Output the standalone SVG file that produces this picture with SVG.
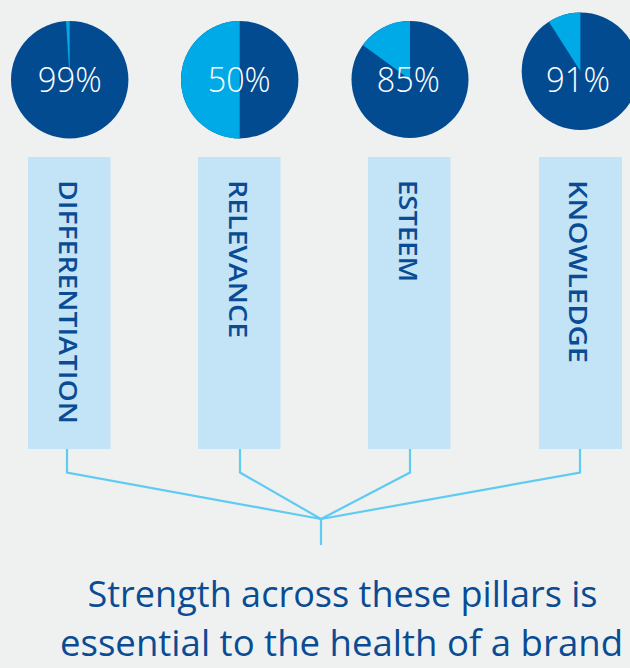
<svg xmlns="http://www.w3.org/2000/svg" width="630" height="668" viewBox="0 0 630 668">
<style>
.dark{fill:#034B90}
.light{fill:#00AAE6}
.pct{font-family:"Open Sans","Noto Sans","Liberation Sans",sans-serif;font-weight:300;font-size:34px;fill:#FFFFFF;text-anchor:middle}
.bar{fill:#C3E3F7}
.lbl{font-family:"Open Sans","Liberation Sans",sans-serif;font-weight:600;font-size:26px;fill:#0A4C93}
.conn{fill:none;stroke:#5FCAF2;stroke-width:2.2;stroke-linejoin:miter}
.cap{font-family:"Open Sans","Noto Sans",sans-serif;font-weight:500;font-size:36px;fill:#0A4C93;text-anchor:middle}
</style>
<rect width="630" height="668" fill="#EFF1F1"/>
<g id="pie1">
<circle class="dark" cx="69.7" cy="79.7" r="58.7"/>
<path class="light" d="M69.7,79.7 L66,21.1 A58.7,58.7 0 0 1 69.7,21 Z"/>
<text class="pct" x="69.7" y="92" textLength="64" lengthAdjust="spacingAndGlyphs">99%</text>
</g>
<g id="pie2">
<circle class="dark" cx="239.7" cy="79.7" r="58.7"/>
<path class="light" d="M239.7,79.7 L239.7,21 A58.7,58.7 0 0 0 239.7,138.4 Z"/>
<text class="pct" x="239.2" y="92" textLength="63" lengthAdjust="spacingAndGlyphs">50%</text>
</g>
<g id="pie3">
<circle class="dark" cx="410" cy="79.5" r="58.5"/>
<path class="light" d="M410,79.5 L362.7,45.1 A58.5,58.5 0 0 1 410,21 Z"/>
<text class="pct" x="408.3" y="92" textLength="63" lengthAdjust="spacingAndGlyphs">85%</text>
</g>
<g id="pie4">
<circle class="dark" cx="580.4" cy="71.3" r="58.7"/>
<path class="light" d="M580.4,71.3 L548.9,21.8 A58.7,58.7 0 0 1 580.4,12.6 Z"/>
<text class="pct" x="578" y="92" textLength="64" lengthAdjust="spacingAndGlyphs">91%</text>
</g>
<g id="bar1">
<rect class="bar" x="28" y="157" width="82.5" height="292"/>
<text class="lbl" transform="translate(58.5,180) rotate(90)" textLength="244" lengthAdjust="spacingAndGlyphs">DIFFERENTIATION</text>
</g>
<g id="bar2">
<rect class="bar" x="198" y="157" width="82.5" height="292"/>
<text class="lbl" transform="translate(228.5,180) rotate(90)" textLength="158" lengthAdjust="spacingAndGlyphs">RELEVANCE</text>
</g>
<g id="bar3">
<rect class="bar" x="368" y="157" width="82.5" height="292"/>
<text class="lbl" transform="translate(398.5,180) rotate(90)" textLength="102" lengthAdjust="spacingAndGlyphs">ESTEEM</text>
</g>
<g id="bar4">
<rect class="bar" x="539" y="157" width="83" height="292"/>
<text class="lbl" transform="translate(568.5,180) rotate(90)" textLength="183" lengthAdjust="spacingAndGlyphs">KNOWLEDGE</text>
</g>
<g id="connectors">
<polyline class="conn" points="67,449 67,472.5 321,519"/>
<polyline class="conn" points="240,449 240,472.5 321,519"/>
<polyline class="conn" points="410,449 410,472.5 321,519"/>
<polyline class="conn" points="580,449 580,472.5 321,519"/>
<line class="conn" x1="321" y1="518" x2="321" y2="545"/>
</g>
<g id="caption">
<text class="cap" x="342.5" y="607" textLength="510" lengthAdjust="spacingAndGlyphs">Strength across these pillars is</text>
<text class="cap" x="341.5" y="656" textLength="563" lengthAdjust="spacingAndGlyphs">essential to the health of a brand</text>
</g>
</svg>
